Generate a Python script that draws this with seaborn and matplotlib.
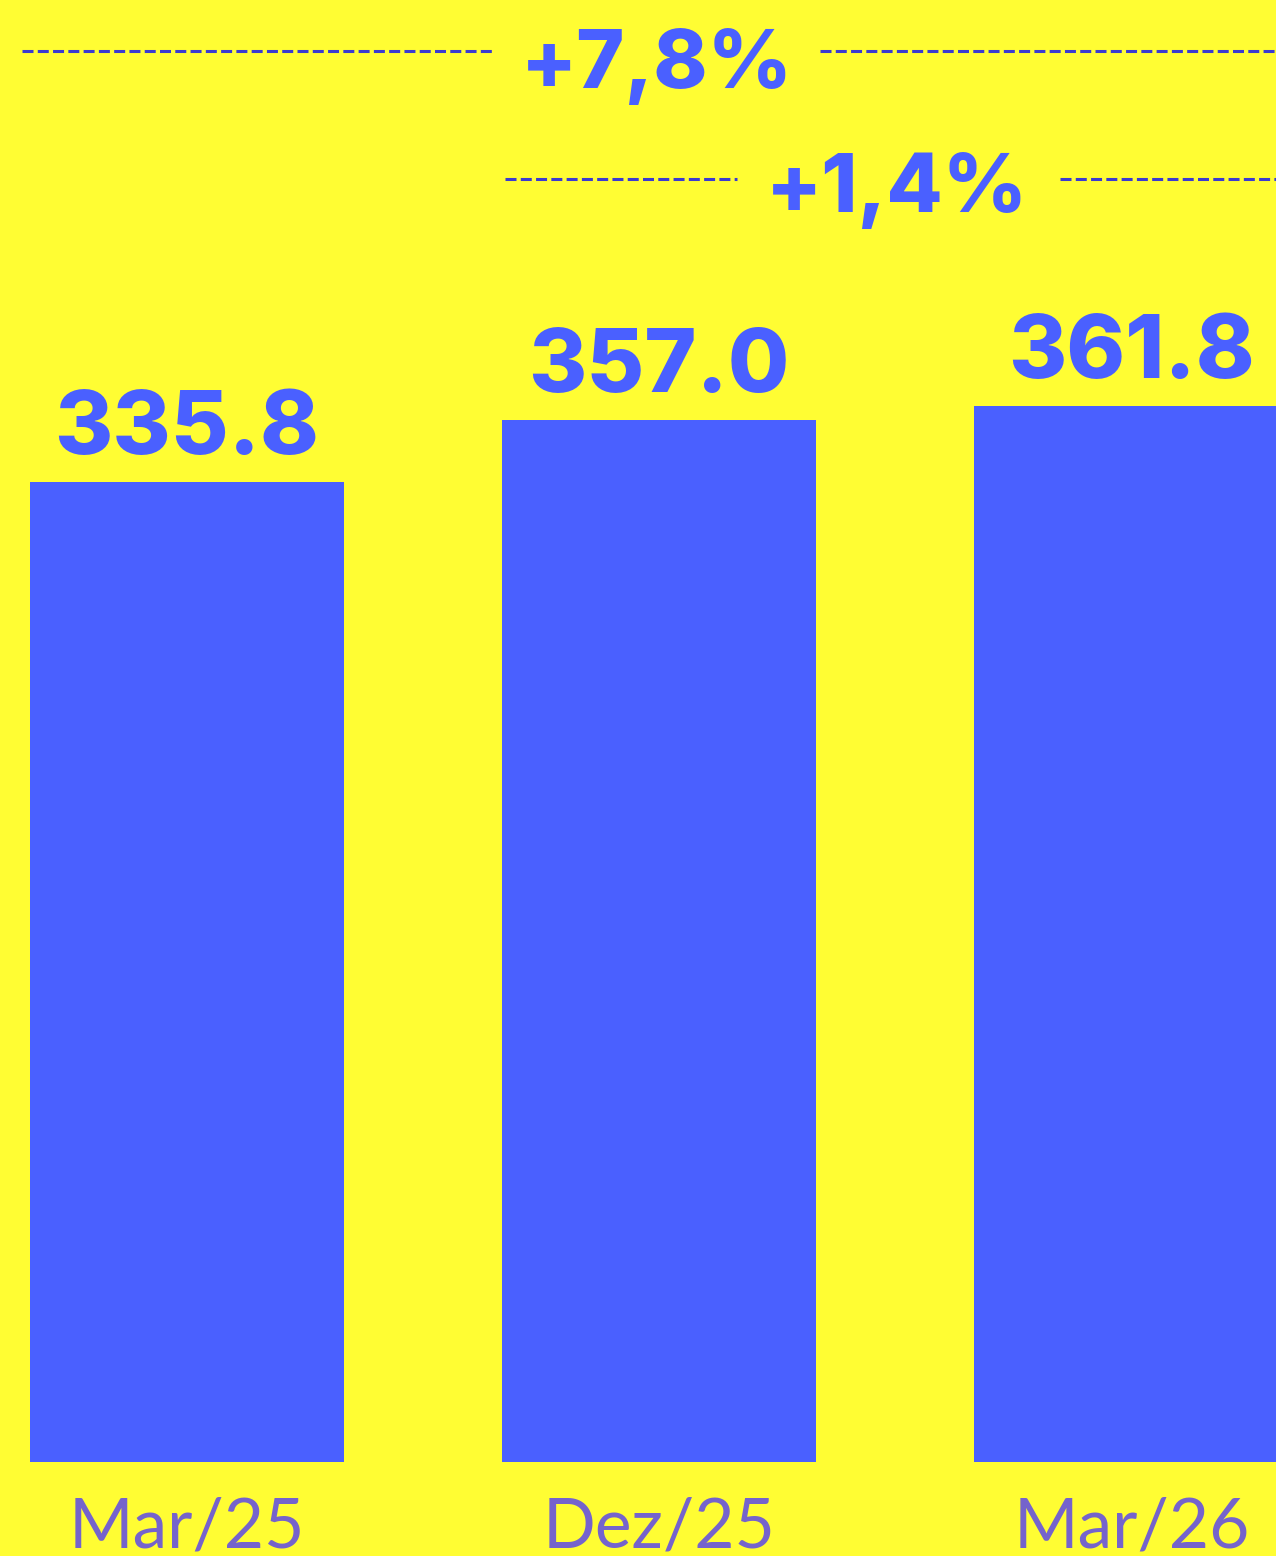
import pandas as pd
import seaborn as sns
from matplotlib import pyplot as plt

# data
periods = ['Mar/25', 'Dez/25', 'Mar/26']
values = [335.8, 357.0, 361.8]
value_labels = ['335.8', '357.0', '361.8']
change_labels = ['+7,8%', '+1,4%']

YELLOW = '#FFFD33'
BLUE = '#4A60FF'
LINE_BLUE = '#3B3BD0'
TICK_PURPLE = '#7563CC'

sns.set_style('white')
plt.rcParams['font.family'] = ['Lato', 'DejaVu Sans']
BOLD_FONT = ['Inter', 'Lato', 'DejaVu Sans']

df = pd.DataFrame({'period': periods, 'value': values})

fig = plt.figure(figsize=(12.76, 15.56), dpi=100, facecolor=YELLOW)
ax = fig.add_axes([0, 94 / 1556, 1, 1462 / 1556])
ax.set_facecolor(YELLOW)

sns.barplot(data=df, x='period', y='value', color=BLUE, width=0.665,
            saturation=1, linewidth=0, ax=ax)

ax.set_xlim(-0.396, 2.306)
ax.set_ylim(0, 500.9)
sns.despine(ax=ax, left=True, bottom=True)
ax.set_yticks([])
ax.set_xlabel('')
ax.set_ylabel('')
ax.tick_params(axis='x', length=0, pad=25, labelsize=50, labelcolor=TICK_PURPLE)

ax.bar_label(ax.containers[0], labels=value_labels, padding=7,
             fontsize=64, fontweight='heavy', family=BOLD_FONT, color=BLUE)

# comparison brackets: dashed line with the change label in a gap
def px_to_y(py):
    return (1462 - py) / 2.919

brackets = [
    # (x_start, gap_left, gap_right, x_end, line_px, text_x, text_baseline_px)
    (-0.349, 0.652, 1.340, 2.31, 51, 0.995, 88),
    (0.673, 1.165, 1.849, 2.31, 179, 1.503, 212),
]
for (x0, g0, g1, x1, ly, tx, tb), lab in zip(brackets, change_labels):
    for a, b in [(x0, g0), (g1, x1)]:
        ax.plot([a, b], [px_to_y(ly)] * 2, color=LINE_BLUE, lw=2.2,
                dashes=(3.6, 1.4), clip_on=False, solid_capstyle='butt')
    ax.text(tx, px_to_y(tb), lab, ha='center', va='baseline', fontsize=59,
            fontweight='heavy', family=BOLD_FONT, color=BLUE)

fig.savefig('out.png', dpi=100, facecolor=YELLOW)
